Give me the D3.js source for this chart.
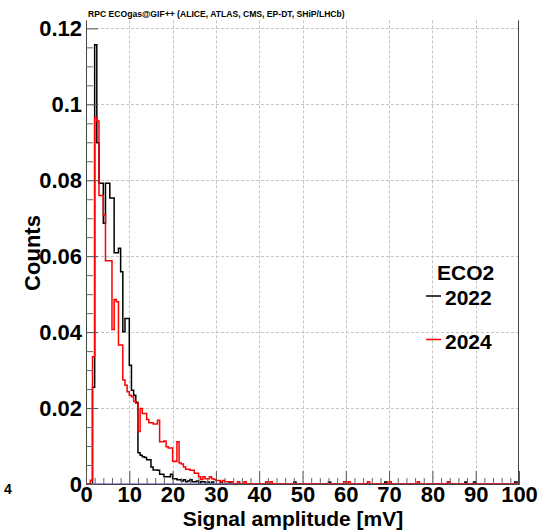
<!DOCTYPE html>
<html>
<head>
<meta charset="utf-8">
<script src="https://cdn.jsdelivr.net/npm/d3@7"></script>
<style>
  body { margin: 0; background: #fff; }
  svg { display: block; font-family: "Liberation Sans", Arial, Helvetica, sans-serif; }
</style>
</head>
<body>
<script>
// Signal amplitude spectra, 0.5 mV bins starting at 0 mV
const binWidth = 0.5;
const nBins = 200;

// 2022 (black): bin contents from 0 mV upward
const counts2022 = [
  0, 0, 0, 0.0255, 0.1157, 0.0899, 0.0792, 0.0792, 0.0687, 0.0792,
  0.0792, 0.0753, 0.0753, 0.0609, 0.0609, 0.0621, 0.0559, 0.0401, 0.0436, 0.0436,
  0.0313, 0.0247, 0.0234, 0.0215, 0.0082, 0.0076, 0.0072, 0.0070, 0.0064, 0.0064,
  0.0045, 0.0037, 0.0037, 0.0036, 0.0026, 0.0026, 0.0019, 0.0019, 0.0019, 0.0026,
  0.0014, 0.0014, 0.0011, 0.0011, 0.0008, 0.0011, 0.0006, 0.0008, 0.0011, 0.0006,
  0.0006, 0.0008, 0, 0.0006, 0.0006, 0, 0.0005, 0, 0.0005, 0,
  0, 0, 0.0005, 0, 0, 0, 0.0005
];
// 2022: isolated entries further out (bin index, content)
const tailBins2022 = [96, 112, 138, 167, 175, 179, 198, 199];
const tailValues2022 = [0.0005, 0.0005, 0.0005, 0.0005, 0.0005, 0.0005, 0.0005, 0.0005];

// 2024 (red): bin contents from 0 mV upward
const counts2024 = [
  0, 0, 0.0010, 0.0335, 0.0965, 0.0956, 0.0760, 0.0760, 0.0708, 0.0588,
  0.0588, 0.0588, 0.0407, 0.0486, 0.0480, 0.0366, 0.0366, 0.0274, 0.0260, 0.0243,
  0.0234, 0.0230, 0.0217, 0.0213, 0.0138, 0.0199, 0.0186, 0.0186, 0.0170, 0.0161,
  0.0161, 0.0158, 0.0158, 0.0168, 0.0111, 0.0111, 0.0113, 0.0098, 0.0095, 0.0095,
  0.0060, 0.0059, 0.0111, 0.0055, 0.0053, 0.0045, 0.0039, 0.0039, 0.0036, 0.0036,
  0.0028, 0.0028, 0.0019, 0.0012, 0.0019, 0.0014, 0.0014, 0.0019, 0.0014, 0.0012,
  0.0009, 0.0009, 0.0006, 0.0009, 0.0006, 0.0006, 0.0006
];
// 2024: isolated entries further out
const tailBins2024 = [67, 70, 73, 83, 85, 119, 121, 130, 140, 153, 167];
const tailValues2024 = [0.0006, 0.0006, 0.0006, 0.0006, 0.0006, 0.0006, 0.0006, 0.0006, 0.0006, 0.0006, 0.0006];

// Axis ticks
const xTicks = [0, 10, 20, 30, 40, 50, 60, 70, 80, 90, 100];
const xTickLabels = ["0", "10", "20", "30", "40", "50", "60", "70", "80", "90", "100"];
const yTicks = [0, 0.02, 0.04, 0.06, 0.08, 0.1, 0.12];
const yTickLabels = ["0", "0.02", "0.04", "0.06", "0.08", "0.1", "0.12"];

const seriesNames = ["2022", "2024"];
const legendTitle = "ECO2";
const titleText = "RPC ECOgas@GIF++ (ALICE, ATLAS, CMS, EP-DT, SHiP/LHCb)";

function fillBins(head, tailIdx, tailVal) {
  const arr = new Array(nBins).fill(0);
  head.forEach((v, i) => { arr[i] = v; });
  tailIdx.forEach((b, k) => { arr[b] = tailVal[k]; });
  return arr;
}
const h2022 = fillBins(counts2022, tailBins2022, tailValues2022);
const h2024 = fillBins(counts2024, tailBins2024, tailValues2024);

const W = 542, H = 530;
const svg = d3.select("body").append("svg").attr("width", W).attr("height", H);

const x = d3.scaleLinear().domain([0, 100]).range([86, 519]);
const y = d3.scaleLinear().domain([0, 0.1221]).range([484, 20.4]);

// dashed grid
const grid = svg.append("g").attr("stroke", "#c4c4c4").attr("stroke-width", 1)
  .attr("stroke-dasharray", "3,2").attr("fill", "none");
xTicks.slice(1, -1).forEach(t => {
  grid.append("line").attr("x1", Math.round(x(t)) + 0.5).attr("x2", Math.round(x(t)) + 0.5)
    .attr("y1", y.range()[1]).attr("y2", 484);
});
yTicks.slice(1).forEach(t => {
  grid.append("line").attr("x1", 86).attr("x2", 519)
    .attr("y1", Math.round(y(t)) + 0.5).attr("y2", Math.round(y(t)) + 0.5);
});

// histogram outline as a step path
function stepPoints(arr) {
  const pts = [[0, 0]];
  arr.forEach((v, i) => {
    pts.push([i * binWidth, v]);
    pts.push([(i + 1) * binWidth, v]);
  });
  pts.push([nBins * binWidth, 0]);
  return pts;
}
const line = d3.line().x(d => x(d[0])).y(d => y(d[1]));

svg.append("path").datum(stepPoints(h2022)).attr("d", line)
  .attr("fill", "none").attr("stroke", "#000").attr("stroke-width", 1.5)
  .attr("stroke-linejoin", "miter");

// empty reference histogram along the baseline
svg.append("line").attr("x1", x(0)).attr("x2", x(100)).attr("y1", y(0)).attr("y2", y(0))
  .attr("stroke", "#7a7ad8").attr("stroke-width", 1.5);

svg.append("path").datum(stepPoints(h2024)).attr("d", line)
  .attr("fill", "none").attr("stroke", "#ff0000").attr("stroke-width", 1.5)
  .attr("stroke-linejoin", "miter");

// frame: left and right edges
const frame = svg.append("g").attr("stroke", "#444").attr("stroke-width", 1).attr("fill", "none");
frame.append("line").attr("x1", 86.5).attr("x2", 86.5).attr("y1", y.range()[1]).attr("y2", 484);
frame.append("line").attr("x1", 518.5).attr("x2", 518.5).attr("y1", y.range()[1]).attr("y2", 484);

// axes with inward ticks
const fontAxis = "bold 22px 'Liberation Sans', Arial, sans-serif";

const xAxis = d3.axisBottom(x).tickValues(xTicks)
  .tickFormat((d, i) => xTickLabels[i]).tickSize(-13).tickPadding(2);
const gx = svg.append("g").attr("transform", "translate(0,484)").call(xAxis);
gx.select(".domain").attr("stroke", "#444");
gx.selectAll(".tick line").attr("stroke", "#555");
gx.selectAll("text").style("font", fontAxis).attr("fill", "#000");

const xMinor = d3.range(0, 100.01, 2).filter(v => v % 10 !== 0);
const gxm = svg.append("g").attr("transform", "translate(0,484)")
  .call(d3.axisBottom(x).tickValues(xMinor).tickSize(-6).tickFormat(""));
gxm.select(".domain").remove();
gxm.selectAll(".tick line").attr("stroke", "#666");

const yAxis = d3.axisLeft(y).tickValues(yTicks)
  .tickFormat((d, i) => yTickLabels[i]).tickSize(-12).tickPadding(4);
const gy = svg.append("g").attr("transform", "translate(86,0)").call(yAxis);
gy.select(".domain").remove();
gy.selectAll(".tick line").attr("stroke", "#555");
gy.selectAll("text").style("font", fontAxis).attr("fill", "#000");

const yMinor = d3.range(0, 0.1221, 0.005).filter(v => Math.abs(v / 0.02 - Math.round(v / 0.02)) > 1e-6);
const gym = svg.append("g").attr("transform", "translate(86,0)")
  .call(d3.axisLeft(y).tickValues(yMinor).tickSize(-7).tickFormat(""));
gym.select(".domain").remove();
gym.selectAll(".tick line").attr("stroke", "#666");

// axis titles
svg.append("text").attr("x", 293).attr("y", 525.5).attr("text-anchor", "middle")
  .style("font", "bold 21px 'Liberation Sans', Arial, sans-serif").text("Signal amplitude [mV]");
svg.append("text").attr("transform", "translate(40,253) rotate(-90)").attr("text-anchor", "middle")
  .style("font", "bold 22px 'Liberation Sans', Arial, sans-serif").text("Counts");

// header
svg.append("text").attr("x", 88).attr("y", 16.5)
  .style("font", "bold 8.6px 'Liberation Sans', Arial, sans-serif").text(titleText);

// stray label at lower left
svg.append("text").attr("x", 4).attr("y", 494)
  .style("font", "bold 14px 'Liberation Sans', Arial, sans-serif").text("4");

// legend
const leg = svg.append("g").style("font", "bold 21px 'Liberation Sans', Arial, sans-serif");
leg.append("text").attr("x", 437).attr("y", 280).text(legendTitle);
leg.append("line").attr("x1", 426).attr("x2", 441).attr("y1", 296).attr("y2", 296)
  .attr("stroke", "#000").attr("stroke-width", 1.5);
leg.append("text").attr("x", 445).attr("y", 305).text(seriesNames[0]);
leg.append("line").attr("x1", 426).attr("x2", 441).attr("y1", 339.5).attr("y2", 339.5)
  .attr("stroke", "#ff0000").attr("stroke-width", 1.5);
leg.append("text").attr("x", 445).attr("y", 349).text(seriesNames[1]);
</script>
</body>
</html>
